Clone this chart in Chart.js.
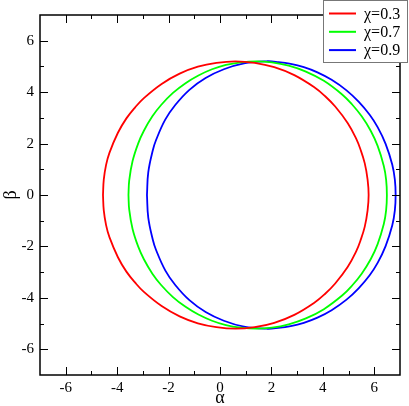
<!DOCTYPE html>
<html>
<head>
<meta charset="utf-8">
<script src="https://cdn.jsdelivr.net/npm/chart.js@4/dist/chart.umd.min.js"></script>
<style>
  body { margin: 0; background: #fff; }
  #wrap { width: 409px; height: 406px; }
</style>
</head>
<body>
<div id="wrap"><canvas id="shadow" width="409" height="406"></canvas></div>
<script>
// upper half of each shadow curve (lower half is its mirror)
var alpha03 = [-4.55, -4.52, -4.43, -4.30, -3.97, -3.64, -3.30, -2.96, -2.27, -1.57, -0.86, -0.14, 0.60, 1.35, 2.11, 2.89, 3.68, 4.08, 4.48, 4.97, 5.30, 5.46, 5.63, 5.74, 5.78];
var beta03  = [0, 0.60, 1.17, 1.64, 2.42, 2.98, 3.41, 3.77, 4.32, 4.72, 4.99, 5.14, 5.20, 5.14, 4.97, 4.66, 4.18, 3.85, 3.44, 2.79, 2.18, 1.78, 1.23, 0.60, 0];

var alpha07 = [-3.56, -3.53, -3.40, -3.18, -2.96, -2.63, -2.29, -1.83, -1.34, -0.84, -0.31, 0.23, 0.81, 1.40, 2.02, 2.67, 3.34, 4.04, 4.76, 5.13, 5.51, 5.86, 6.13, 6.37, 6.46, 6.49];
var beta07  = [0, 0.57, 1.32, 2.01, 2.50, 3.06, 3.50, 3.97, 4.35, 4.65, 4.89, 5.06, 5.16, 5.20, 5.16, 5.03, 4.80, 4.44, 3.90, 3.53, 3.06, 2.50, 1.91, 1.13, 0.60, 0];

var alpha09 = [-2.84, -2.79, -2.61, -2.49, -2.13, -1.74, -1.19, -0.56, 0.15, 0.93, 1.80, 2.27, 2.75, 3.26, 3.79, 4.34, 4.92, 5.39, 5.82, 6.13, 6.44, 6.70, 6.80, 6.83];
var beta09  = [0, 0.88, 1.75, 2.13, 2.93, 3.50, 4.09, 4.55, 4.89, 5.12, 5.20, 5.17, 5.10, 4.97, 4.77, 4.48, 4.07, 3.63, 3.12, 2.64, 1.99, 1.18, 0.60, 0];

var spinLabels = ["\u03c7=0.3", "\u03c7=0.7", "\u03c7=0.9"];
var spinColors = ["#ff0000", "#00ff00", "#0000ff"];

var majorTicks = [-6, -4, -2, 0, 2, 4, 6];
var minorTicks = [-5, -3, -1, 1, 3, 5];

var serif = "'Liberation Serif', 'DejaVu Serif', serif";

function loop(al, be) {
    var pts = [];
    for (var i = 0; i < al.length; i++) pts.push({ x: al[i], y: be[i] });
    for (var j = al.length - 2; j >= 0; j--) pts.push({ x: al[j], y: -be[j] });
    return pts;
}

var curves = [loop(alpha03, beta03), loop(alpha07, beta07), loop(alpha09, beta09)];

var frame = {
    id: "frame",
    afterDraw: function (chart) {
        var ctx = chart.ctx;
        var a = chart.chartArea;
        var xs = chart.scales.x, ys = chart.scales.y;
        ctx.save();
        ctx.strokeStyle = "#000";
        ctx.lineWidth = 1;
        ctx.beginPath();
        function tick(v, len) {
            var px = Math.round(xs.getPixelForValue(v)) + 0.5;
            ctx.moveTo(px, a.bottom); ctx.lineTo(px, a.bottom - len);
            ctx.moveTo(px, a.top); ctx.lineTo(px, a.top + len);
            var py = Math.round(ys.getPixelForValue(v)) + 0.5;
            ctx.moveTo(a.left, py); ctx.lineTo(a.left + len, py);
            ctx.moveTo(a.right, py); ctx.lineTo(a.right - len, py);
        }
        majorTicks.forEach(function (v) { tick(v, 8); });
        minorTicks.forEach(function (v) { tick(v, 4); });
        ctx.stroke();
        ctx.lineWidth = 1.5;
        ctx.strokeRect(a.left, a.top, a.right - a.left, a.bottom - a.top);

        // axis titles
        ctx.fillStyle = "#000";
        ctx.font = "18px " + serif;
        ctx.textAlign = "center";
        ctx.textBaseline = "middle";
        ctx.fillText("\u03b1", (a.left + a.right) / 2, 398);
        ctx.save();
        ctx.translate(11, (a.top + a.bottom) / 2);
        ctx.rotate(-Math.PI / 2);
        ctx.fillText("\u03b2", 0, 0);
        ctx.restore();

        // legend box
        ctx.fillStyle = "#fff";
        ctx.fillRect(323.5, 0.5, 84, 62);
        ctx.strokeStyle = "#777";
        ctx.lineWidth = 1;
        ctx.strokeRect(323.5, 0.5, 84, 62);
        ctx.font = "16px " + serif;
        ctx.textAlign = "left";
        for (var i = 0; i < spinLabels.length; i++) {
            var ly = 13.5 + i * 18.3;
            ctx.strokeStyle = spinColors[i];
            ctx.lineWidth = 2;
            ctx.beginPath();
            ctx.moveTo(329, ly); ctx.lineTo(356, ly);
            ctx.stroke();
            ctx.fillStyle = "#000";
            ctx.fillText(spinLabels[i], 364, ly + 1);
        }
        ctx.restore();
    }
};

new Chart(document.getElementById("shadow"), {
    type: "line",
    data: {
        datasets: curves.map(function (pts, i) {
            return {
                label: spinLabels[i],
                data: pts,
                borderColor: spinColors[i],
                borderWidth: 1.8,
                pointRadius: 0,
                tension: 0.4,
                fill: false,
            };
        }),
    },
    options: {
        responsive: false,
        animation: false,
        layout: { padding: { top: 15, right: 9, left: 0, bottom: 0 } },
        plugins: { legend: { display: false }, tooltip: { enabled: false } },
        scales: {
            x: {
                type: "linear",
                min: -7,
                max: 7,
                afterBuildTicks: function (s) { s.ticks = majorTicks.map(function (v) { return { value: v }; }); },
                afterFit: function (s) { s.height = 31; },
                grid: { display: false, drawTicks: false },
                border: { display: false },
                ticks: { color: "#000", padding: 4, maxRotation: 0, font: { family: serif, size: 15 } },
            },
            y: {
                type: "linear",
                min: -7,
                max: 7,
                afterBuildTicks: function (s) { s.ticks = majorTicks.map(function (v) { return { value: v }; }); },
                afterFit: function (s) { s.width = 40; },
                grid: { display: false, drawTicks: false },
                border: { display: false },
                ticks: { color: "#000", padding: 6, font: { family: serif, size: 15 } },
            },
        },
    },
    plugins: [frame],
});
</script>
</body>
</html>
